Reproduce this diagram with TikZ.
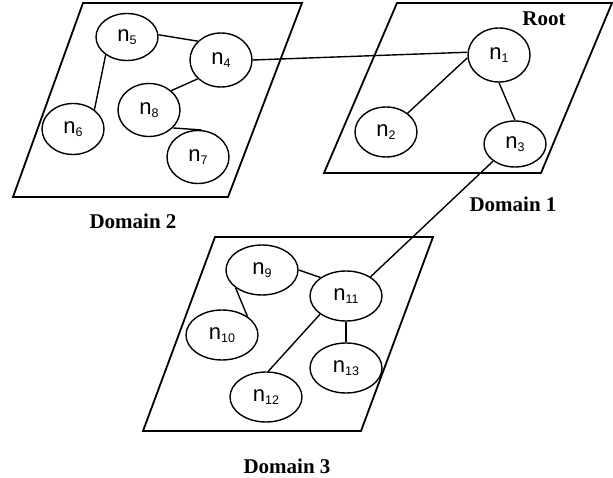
\documentclass[tikz,border=0pt]{standalone}
\usepackage{fontspec}
\setmainfont{Liberation Serif}
\newfontfamily\nodefont{Liberation Sans}
\usetikzlibrary{shapes.geometric}

% node label: letter n with a lowered, smaller index
\newcommand{\nlab}[1]{{\nodefont\fontsize{22}{22}\selectfont n\raisebox{-3pt}{\fontsize{12.5}{12.5}\selectfont #1}}}

\tikzset{
  plane/.style={draw, line width=1.8pt, line join=miter},
  host/.style={draw, ellipse, line width=1.4pt, inner sep=0pt,
               minimum width=62pt, minimum height=51pt},
  widehost/.style={host, minimum width=72pt, minimum height=50pt},
  link/.style={line width=1.4pt},
  domlabel/.style={font=\bfseries\fontsize{21}{21}\selectfont, inner sep=0pt}
}

\begin{document}
\begin{tikzpicture}[x=1pt, y=-1pt]
  \useasboundingbox (0,0) rectangle (613,478);

  % domain planes
  \draw[plane] (83,3) -- (302,3) -- (228,197) -- (13,197) -- cycle;
  \draw[plane] (397,3) -- (612,3) -- (541,173) -- (324,173) -- cycle;
  \draw[plane] (215,237) -- (433,237) -- (361,431) -- (143,431) -- cycle;

  % domain labels
  \node[domlabel] (d2) at (133,221) {Domain 2};
  \node[domlabel] (d1) at (513,204) {Domain 1};
  \node[domlabel] (d3) at (287,466) {Domain 3};
  \node[domlabel] (root) at (544,19) {Root};

  % Domain 2 hosts
  \node[host, minimum height=47pt] (n5) at (127,37) {\nlab{5}};
  \node[host, minimum height=54pt] (n4) at (221,60) {\nlab{4}};
  \node[host, minimum height=53pt] (n8) at (149,110) {\nlab{8}};
  \node[host] (n6) at (73,129) {\nlab{6}};
  \node[host, minimum height=53pt] (n7) at (198,157) {\nlab{7}};

  % Domain 1 hosts
  \node[host, minimum height=54pt] (n1) at (499,55) {\nlab{1}};
  \node[host, minimum height=50pt] (n2) at (386,132) {\nlab{2}};
  \node[host, minimum height=46pt] (n3) at (515,144) {\nlab{3}};

  % Domain 3 hosts
  \node[widehost] (n9) at (262,270) {\nlab{9}};
  \node[widehost] (n11) at (346,296) {\nlab{11}};
  \node[widehost] (n10) at (222,335) {\nlab{10}};
  \node[widehost] (n13) at (346,368) {\nlab{13}};
  \node[widehost] (n12) at (266,397) {\nlab{12}};

  % links inside Domain 2
  \draw[link] (n5.4) -- (n4.141);
  \draw[link] (n5.220) -- (n6.42);
  \draw[link] (n4.219) -- (n8.41);
  \draw[link] (n8.-37) -- (n7.83);

  % links inside Domain 1
  \draw[link] (n1.185) -- (n2.41);
  \draw[link] (n1.270) -- (n3.90);

  % links inside Domain 3
  \draw[link] (n9.0) -- (n11.144);
  \draw[link] (n9.214) -- (n10.36);
  \draw[link] (n11.215) -- (n12.85);
  \draw[link] (n11.270) -- (n13.90);

  % inter-domain links
  \draw[link] (n4.0) -- (n1.175);
  \draw[link] (n3.218) -- (n11.38);
\end{tikzpicture}
\end{document}
